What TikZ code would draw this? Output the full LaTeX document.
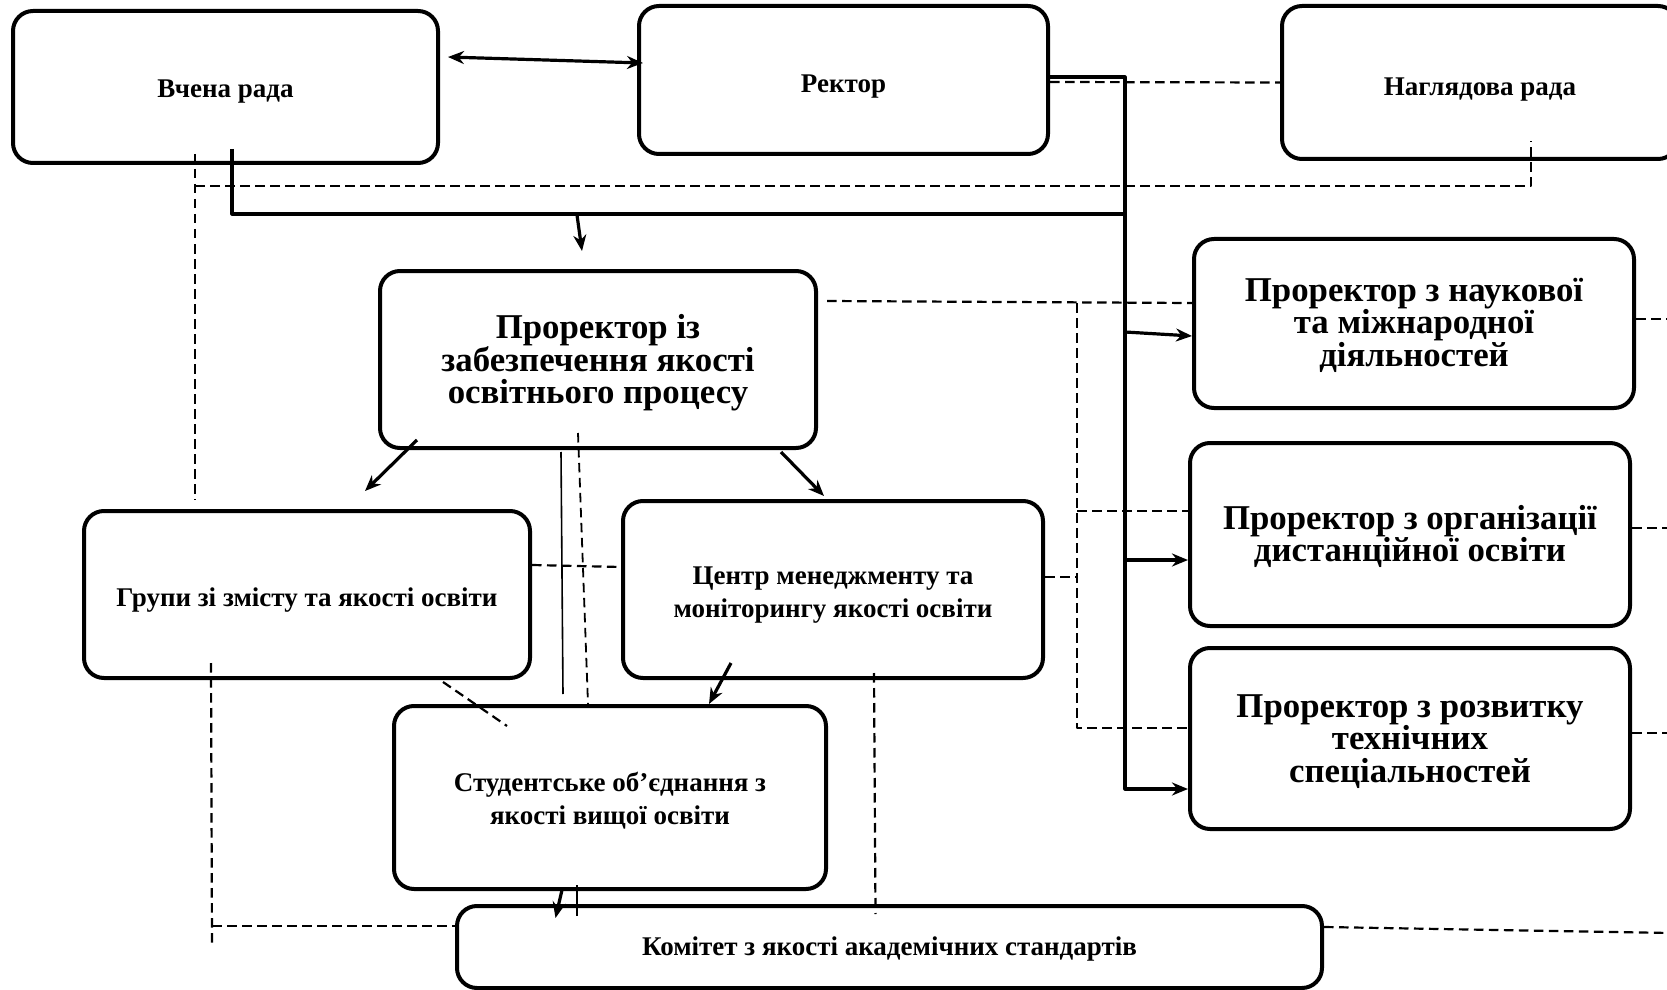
\documentclass[tikz,border=0pt]{standalone}
\usepackage{fontspec}
\setmainfont{Liberation Serif}
\usetikzlibrary{arrows.meta}
% lowered, centred text block
\newcommand{\dn}[2]{\raisebox{-#1}[\height][\depth]{\begin{tabular}{@{}c@{}}#2\end{tabular}}}
\begin{document}
\begin{tikzpicture}[x=0.5pt,y=-0.5pt,line join=round,>={Stealth[length=8pt,width=6.5pt]}]
 \tikzset{box/.style={draw,line width=2pt,rounded corners=10pt,inner sep=0pt,font=\bfseries\fontsize{13.5}{16.5}\selectfont},
  bigbox/.style={box,font=\bfseries\fontsize{17.4}{14}\selectfont},
  conn/.style={line width=1.6pt},
  dline/.style={line width=1.1pt,dash pattern=on 4.75pt off 2.75pt},
  thinline/.style={line width=0.8pt}}
 \useasboundingbox (0,0) rectangle (1667,990);
 % top row
 \node[box,minimum width=212.5pt,minimum height=76pt] (vr) at (225.5,87) {\dn{2pt}{Вчена рада}};
 \node[box,minimum width=204.5pt,minimum height=74pt] (rec) at (843.5,80) {\dn{3pt}{Ректор}};
 \node[box,minimum width=198pt,minimum height=76.5pt] (nr) at (1480,82.5) {\dn{3pt}{Наглядова рада}};
 % vice-rectors
 \node[bigbox,minimum width=218pt,minimum height=88.5pt] (pq) at (598,359.5) {\dn{1.8pt}{Проректор із\\забезпечення якості\\освітнього процесу}};
 \node[bigbox,minimum width=220pt,minimum height=84.5pt] (pn) at (1414,323.5) {\dn{1.5pt}{Проректор з наукової\\та міжнародної\\діяльностей}};
 \node[bigbox,minimum width=220pt,minimum height=91.5pt] (po) at (1410,534.5) {\dn{1.6pt}{Проректор з організації\\дистанційної освіти}};
 \node[bigbox,minimum width=220pt,minimum height=90.5pt] (pr) at (1410,738.5) {\dn{2pt}{Проректор з розвитку\\технічних\\спеціальностей}};
 % units
 \node[box,minimum width=223pt,minimum height=83.5pt] (gr) at (307,594.5) {\dn{2.6pt}{Групи зі змісту та якості освіти}};
 \node[box,minimum width=210pt,minimum height=88.5pt] (cm) at (833,589.5) {\dn{2.3pt}{Центр менеджменту та\\моніторингу якості освіти}};
 \node[box,minimum width=216pt,minimum height=91.5pt] (so) at (610,797.5) {\dn{2pt}{Студентське об’єднання з\\якості вищої освіти}};
 \node[box,minimum width=432.5pt,minimum height=41pt] (km) at (889.5,947) {\dn{1pt}{Комітет з якості академічних стандартів}};
 % rector bus
 \coordinate (bt) at (1125,77); \coordinate (bb) at (1125,789);
 \coordinate (bn) at (1125,332); \coordinate (bo) at (1125,560);
 \draw[conn,->] ([yshift=1.5pt]rec.east) -- (bt) -- (bb) -- (pr.west |- bb);
 \draw[conn,->] (bn) -- ([yshift=-6.25pt]pn.west);
 \draw[conn,->] (bo) -- (po.west |- bo);
 \draw[conn,<->] ([xshift=4pt,yshift=15pt]vr.east) -- ([xshift=3pt,yshift=8.5pt]rec.west);
 \coordinate (vrs) at (232,149); \coordinate (bh) at (1125,214); \coordinate (pqa) at (577,215);
 \draw[conn] (vrs) |- (bh);
 \draw[conn,->] (pqa) -- ([xshift=-8pt,yshift=9pt]pq.north);
 % dashed links, top
 \coordinate (vrd) at (195,154); \coordinate (grd) at (195,500);
 \coordinate (dh) at (195,186); \coordinate (nrd) at (1531,141);
 \draw[dline] (vrd) -- (grd);
 \draw[dline] (dh) -| (nrd);
 \draw[dline] ([yshift=-1pt]rec.east) -- (nr.west);
 % dashed links, right
 \coordinate (pqd) at (827,301);
 \coordinate (vt) at (1077,303); \coordinate (vb) at (1077,728);
 \coordinate (vo) at (1077,511); \coordinate (vc) at (1077,577);
 \draw[dline] (pqd) -- ([yshift=10.25pt]pn.west);
 \draw[dline] (vt) -- (vb) -- ([yshift=5.25pt]pr.west);
 \draw[dline] (vo) -- (po.west |- vo);
 \draw[dline] ([yshift=6.25pt]cm.east) -- (vc);
 \coordinate (e1) at (1670,319); \coordinate (e2) at (1670,528);
 \coordinate (e3) at (1670,733); \coordinate (e4) at (1670,933);
 \draw[dline] ([yshift=2.25pt]pn.east) -- (e1);
 \draw[dline] ([yshift=3.25pt]po.east) -- (e2);
 \draw[dline] ([yshift=2.75pt]pr.east) -- (e3);
 \draw[dline] ([yshift=10pt]km.east) -- (e4);
 % middle
 \draw[conn,->] ([xshift=-90.5pt,yshift=5pt]pq.south) -- ([xshift=29pt,yshift=9pt]gr.north);
 \draw[conn,->] ([xshift=91.5pt,yshift=-1pt]pq.south) -- ([xshift=-4.5pt,yshift=1.5pt]cm.north);
 \draw[thinline] ([xshift=-18.5pt,yshift=-1pt]pq.south) -- ([xshift=-23.5pt,yshift=5pt]so.north);
 \draw[dline,line width=0.9pt] ([xshift=-10pt,yshift=8.5pt]pq.south) -- ([xshift=-11pt]so.north);
 \draw[dline] ([yshift=14.75pt]gr.east) -- ([yshift=11.25pt]cm.west);
 \draw[conn,->] ([xshift=-51pt,yshift=8.5pt]cm.south) -- ([xshift=49.5pt]so.north);
 \draw[dline] ([xshift=68pt,yshift=-1pt]gr.south) -- ([xshift=-51.5pt,yshift=-11pt]so.north);
 % bottom
 \coordinate (gk) at (212,943); \coordinate (gkh) at (212,926);
 \draw[dline] ([xshift=-48pt,yshift=8.5pt]gr.south) -- (gk);
 \draw[dline] (gkh) -- ([yshift=10.5pt]km.west);
 \draw[dline] ([xshift=20.5pt,yshift=3.5pt]cm.south) -- ([xshift=-7pt,yshift=-5pt]km.north);
 \draw[conn,->] ([xshift=-24pt,yshift=0.5pt]so.south) -- ([xshift=-167pt,yshift=-7pt]km.north);
 \draw[line width=1pt] ([xshift=-16.5pt,yshift=3pt]so.south) -- ([xshift=-16.5pt,yshift=-12.5pt]so.south);
\end{tikzpicture}
\end{document}
